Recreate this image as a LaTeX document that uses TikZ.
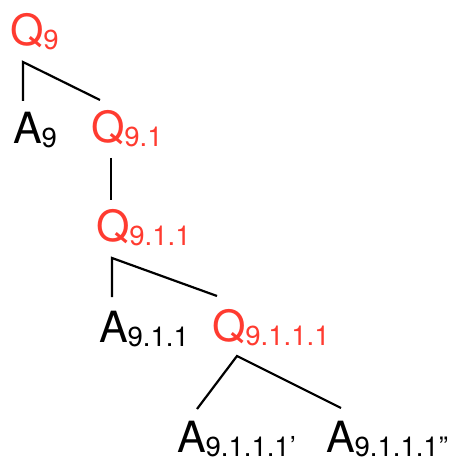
\documentclass[tikz,border=0pt]{standalone}
\usepackage{fontspec}
\setmainfont{TeX Gyre Heros}
\definecolor{qred}{HTML}{FF3B30}
\newcommand{\bigtxt}[1]{{\fontsize{43}{43}\selectfont #1}}
\newcommand{\smltxt}[1]{\raisebox{-4pt}{\fontsize{27.5}{27.5}\selectfont #1}}
\begin{document}
\begin{tikzpicture}[x=1pt,y=-1pt,
  lbl/.style={anchor=base west,inner sep=0pt,outer sep=0pt},
  qlbl/.style={lbl,text=qred},
  albl/.style={lbl,text=black},
  edge/.style={draw=black,line width=2.2pt}]
\useasboundingbox (0,0) rectangle (456,462);
\node[qlbl] (q9) at (10,46) {\bigtxt{Q}\smltxt{9}};
\node[albl] (a9) at (13,144) {\bigtxt{A}\smltxt{9}};
\node[qlbl] (q91) at (91,143) {\bigtxt{Q}\smltxt{9.1}};
\node[qlbl] (q911) at (96,241) {\bigtxt{Q}\smltxt{9.1.1}};
\node[albl] (a911) at (99,342) {\bigtxt{A}\smltxt{9.1.1}};
\node[qlbl] (q9111) at (212,341) {\bigtxt{Q}\smltxt{9.1.1.1}};
\node[albl] (a9111a) at (177,452) {\bigtxt{A}\smltxt{9.1.1.1’}};
\node[albl] (a9111b) at (326,452) {\bigtxt{A}\smltxt{9.1.1.1”}};
% corners and ends
\coordinate (c1) at (23,62);
\coordinate (e1a) at (23,101);
\coordinate (e1b) at (100,100);
\coordinate (c2t) at (111,158);
\coordinate (c2b) at (111,200);
\coordinate (c3) at (112,258);
\coordinate (e3a) at (112,297);
\coordinate (e3b) at (217,296);
\coordinate (c4) at (237,356);
\coordinate (e4a) at (197,409);
\coordinate (e4b) at (341,408);
\draw[edge] (e1a) -- (c1) -- (e1b);
\draw[edge] (c2t) -- (c2b);
\draw[edge] (e3a) -- (c3) -- (e3b);
\draw[edge] (e4a) -- (c4) -- (e4b);
\end{tikzpicture}
\end{document}
